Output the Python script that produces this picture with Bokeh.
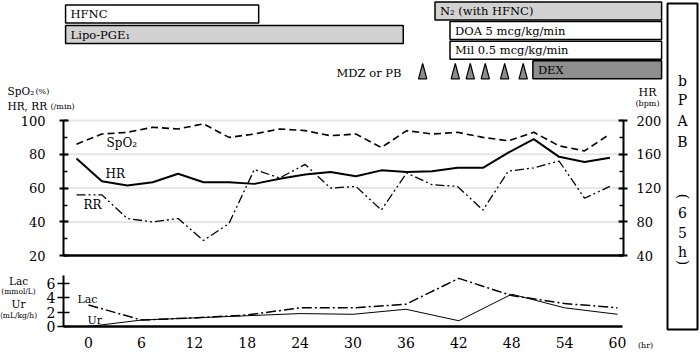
import math
from bokeh.plotting import figure
from bokeh.models import Range1d, LinearAxis, SingleIntervalTicker, FixedTicker
from bokeh.core.properties import value
from bokeh.embed import file_html
from bokeh.resources import INLINE

# ---------------- data ----------------
vital_t = [0, 3, 6, 9, 12, 15, 18, 21, 24, 27, 30, 33, 36, 39, 42, 45, 48, 51, 54, 57, 60, 63]
spo2 = [86, 92, 93, 96, 95, 98, 90, 92, 95, 94, 91, 92, 84, 94, 92, 93, 90, 88, 93, 85, 82, 92]
hr = [155, 128, 123, 127, 137, 127, 127, 125, 131, 136, 139, 134, 141, 139, 140, 144, 144, 162, 178, 157, 151, 156]
rr = [56, 56, 42, 40, 42, 29, 39, 71, 66, 74, 60, 61, 47, 69, 62, 61, 47, 70, 72, 76, 54, 61]

lab_t = [0, 6, 12, 18, 24, 30, 36, 42, 48, 54, 60]
lac = [3.0, 0.9, 1.2, 1.6, 2.6, 2.6, 3.1, 6.7, 4.3, 3.2, 2.6]
ur = [0.0, 0.9, 1.2, 1.5, 1.8, 1.7, 2.4, 0.8, 4.5, 2.6, 1.7]

x_ticks = [0, 6, 12, 18, 24, 30, 36, 42, 48, 54, 60]
lower_y_ticks = [0, 2, 4, 6]
grid_vals = [40, 60, 80, 100]

bar_names = ["HFNC", "Lipo-PGE\u2081", "N\u2082 (with HFNC)", "DOA 5 mcg/kg/min", "Mil 0.5 mcg/kg/min", "DEX"]
bar_start = [-2.6, -2.6, 39.3, 41.0, 41.0, 50.4]
bar_end = [19.3, 35.7, 65.0, 65.0, 65.0, 65.0]
bar_lane = [0.15, 1.2, 0, 1, 2, 3]
dose_t = [37.9, 41.6, 43.3, 45.0, 47.2, 49.3]

side_chars = ["b", "P", "A", "B", "(", "6", "5", "h", ")"]

# ---------------- styles / layout ----------------
FONT = value("DejaVu Serif")
bar_fill = ["white", "#d2d2d2", "#d2d2d2", "white", "white", "#8e8e8e"]
side_y = [80, 99, 120.5, 141, 196, 211.5, 231.5, 251, 262]
side_angle = [0, 0, 0, 0, -math.pi / 2, 0, 0, 0, -math.pi / 2]
W, H = 700, 354

def h_of(px):          # lower time axis (hours)
    return (px - 88) / 8.817

def t_of(px):          # upper vital-sign time axis
    return (px - 76) / 8.467

def v_of(py):          # left vital scale
    return 100 - (py - 120) / 1.69

def u_of(py):          # lower lab scale
    return (326 - py) / (51 / 7.1)

def lane_of(py):       # treatment lanes
    return (py - 10.5) / 19.6

p = figure(width=W, height=H, x_range=Range1d(h_of(0), h_of(W)), y_range=Range1d(v_of(H), v_of(0)),
           x_axis_location=None, y_axis_location=None, min_border=0,
           min_border_left=0, min_border_right=0, min_border_top=0, min_border_bottom=0,
           outline_line_color=None, toolbar_location=None, output_backend="svg")
p.grid.visible = False
p.extra_x_ranges = {"up": Range1d(t_of(0), t_of(W)), "pix": Range1d(0, W)}
p.extra_y_ranges = {"hr": Range1d(2 * v_of(H), 2 * v_of(0)),
                    "low": Range1d(u_of(H), u_of(0)),
                    "lane": Range1d(lane_of(H), lane_of(0)),
                    "pix": Range1d(H, 0)}

# ---------------- treatment strip ----------------
p.quad(left=bar_start, right=bar_end,
       top=[l - 0.46 for l in bar_lane], bottom=[l + 0.46 for l in bar_lane],
       y_range_name="lane", fill_color=bar_fill, line_color="black", line_width=1.5)
p.text(x=bar_start, y=bar_lane, text=bar_names, x_offset=5, y_range_name="lane", text_font=FONT,
       text_font_size=value("11.5px"), text_baseline="middle", text_align="left", text_color="black")
p.patches(xs=[[t - 0.47, t, t + 0.47] for t in dose_t],
          ys=[[3.46, 2.68, 3.46] for _ in dose_t], y_range_name="lane",
          fill_color="#8c8c8c", line_color="black", line_width=1.2)

def ptext(x, y, txt, size, align="left"):
    p.text(x=x, y=y, text=txt, x_range_name="pix", y_range_name="pix", text_font=FONT,
           text_font_size=value(size), text_baseline="middle", text_align=align, text_color="black")

ptext([401], [72], ["MDZ or PB"], "11.5px", "right")
ptext([7, 7], [90, 105], ["SpO\u2082", "HR, RR"], "10.5px")
ptext([35, 50], [90.5, 105.5], ["(%)", "(/min)"], "8px")
ptext([647], [92], ["HR"], "11px", "center")
ptext([647], [103], ["(bpm)"], "8px", "center")
ptext([18, 18], [280, 303], ["Lac", "Ur"], "10.5px", "center")
ptext([18, 18], [291, 315], ["(mmol/L)", "(mL/kg/h)"], "7.5px", "center")
ptext([645], [345], ["(hr)"], "8px", "center")

# ---------------- upper vital-sign panel ----------------
p.segment(x0=[63] * len(grid_vals), x1=[623] * len(grid_vals), y0=grid_vals, y1=grid_vals,
          x_range_name="pix", line_color="#e6e6e6", line_width=2)

ax_left = LinearAxis(x_range_name="pix", fixed_location=63, bounds=(20, 100),
                     ticker=SingleIntervalTicker(interval=20, num_minor_ticks=2))
ax_right = LinearAxis(x_range_name="pix", y_range_name="hr", fixed_location=623, bounds=(40, 200),
                      ticker=SingleIntervalTicker(interval=40, num_minor_ticks=2))
for axis, standoff in ((ax_left, 14), (ax_right, 9)):
    axis.axis_line_width = 2
    axis.major_tick_line_width = 2
    axis.major_tick_in = 5
    axis.major_tick_out = 4
    axis.minor_tick_in = 4
    axis.minor_tick_out = 0
    axis.minor_tick_line_width = 1.5
    axis.major_label_standoff = standoff
    axis.major_label_text_font = "DejaVu Serif"
    axis.major_label_text_font_size = "13px"
    axis.major_label_text_color = "black"
p.add_layout(ax_left, "left")
p.add_layout(ax_right, "right")

ax_up_base = LinearAxis(x_range_name="pix", fixed_location=20, bounds=(63, 623),
                        ticker=FixedTicker(ticks=[]), major_tick_in=0, major_tick_out=0,
                        major_label_text_font_size="0px", axis_line_width=2.5)
p.add_layout(ax_up_base, "below")

p.line(vital_t, spo2, x_range_name="up", line_color="black", line_width=1.6, line_dash="7 4")
p.line(vital_t, hr, x_range_name="up", y_range_name="hr", line_color="black", line_width=2)
p.line(vital_t, rr, x_range_name="up", line_color="black", line_width=1.3, line_dash="9 3 2 3 2 3")
ptext([106, 105, 83], [142, 173, 204], ["SpO\u2082", "HR", "RR"], "12px")

# ---------------- lower lab panel ----------------
ax_low_x = LinearAxis(y_range_name="low", fixed_location=0, bounds=(h_of(63), h_of(622)),
                      ticker=FixedTicker(ticks=x_ticks), major_tick_in=0, major_tick_out=0,
                      axis_line_width=2.5, major_label_standoff=10)
ax_low_y = LinearAxis(x_range_name="pix", y_range_name="low", fixed_location=63, bounds=(0, 7.1),
                      ticker=FixedTicker(ticks=lower_y_ticks), major_tick_in=6, major_tick_out=6,
                      major_tick_line_width=1.5, axis_line_width=2, major_label_standoff=2)
for axis in (ax_low_x, ax_low_y):
    axis.major_label_text_font = "DejaVu Serif"
    axis.major_label_text_font_size = "14px"
    axis.major_label_text_color = "black"
p.add_layout(ax_low_x, "below")
p.add_layout(ax_low_y, "left")

p.line(lab_t, lac, y_range_name="low", line_color="black", line_width=1.5, line_dash="10 3 2 3")
p.line(lab_t, ur, y_range_name="low", line_color="black", line_width=1)
ptext([77, 87], [299, 320], ["Lac", "Ur"], "11px")

# ---------------- right side box ----------------
p.quad(left=[667], right=[697], top=[3], bottom=[329], x_range_name="pix", y_range_name="pix",
       fill_color=None, line_color="black", line_width=2)
p.text(x=[682] * len(side_chars), y=side_y, text=side_chars, angle=side_angle,
       x_range_name="pix", y_range_name="pix", text_font=FONT, text_font_size=value("14px"),
       text_baseline="middle", text_align="center", text_color="black")

open("out.html", "w").write(file_html(p, INLINE))
